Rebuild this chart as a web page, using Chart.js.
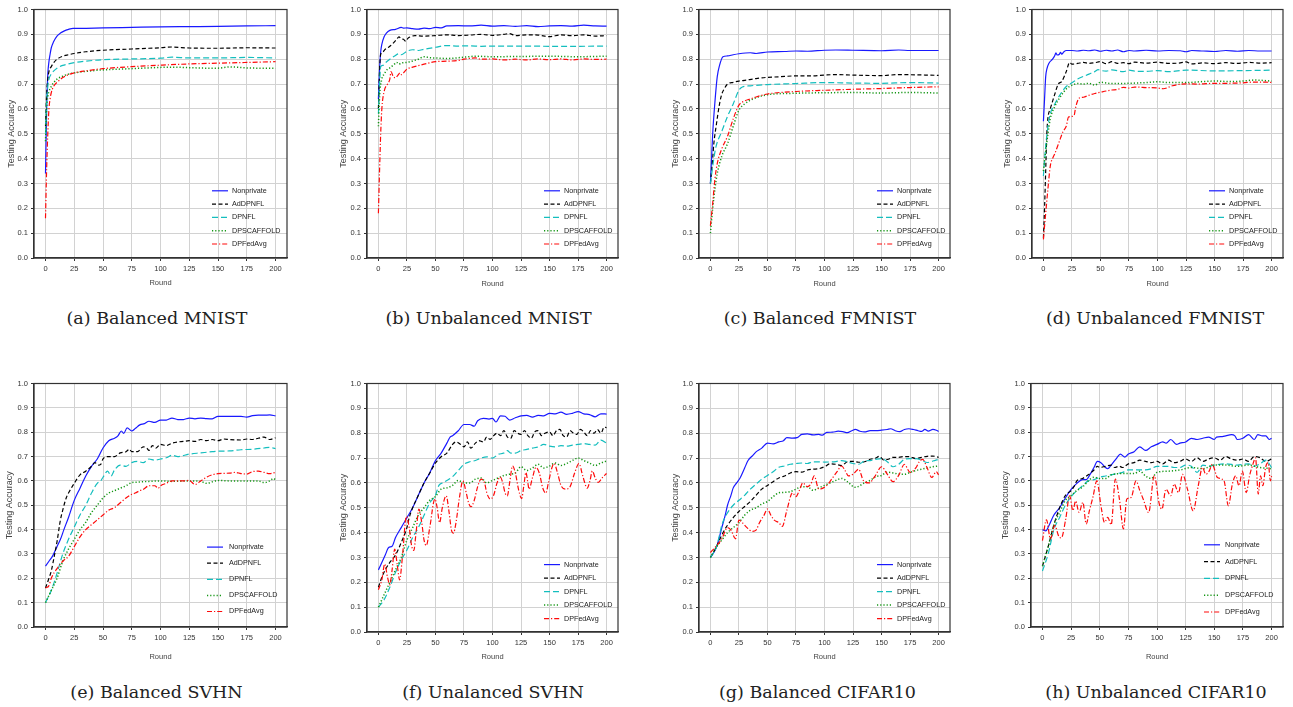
<!DOCTYPE html>
<html>
<head>
<meta charset="utf-8">
<script src="https://cdn.jsdelivr.net/npm/chart.js@4.4.0/dist/chart.umd.min.js"></script>
<style>
body { margin: 0; background: #fff; }
#fig { position: relative; width: 1293px; height: 707px; overflow: hidden; }
#fig canvas { position: absolute; }
.cap { position: absolute; font-family: "DejaVu Serif", serif; font-size: 17.5px; line-height: 21px; color: #222; white-space: nowrap; transform: translateX(-50%); }
</style>
</head>
<body>
<div id="fig"></div>
<script>
// series names, tick labels
const seriesNames = ['Nonprivate', 'AdDPNFL', 'DPNFL', 'DPSCAFFOLD', 'DPFedAvg'];
const xTicks = [0, 25, 50, 75, 100, 125, 150, 175, 200];
const yTicks = [0, 0.1, 0.2, 0.3, 0.4, 0.5, 0.6, 0.7, 0.8, 0.9, 1.0];

// (a) Balanced MNIST  [round, accuracy]
const aNonprivate = [[0,.34],[1,.6],[2,.74],[3,.79],[4,.82],[5,.845],[7,.87],[10,.893],[13,.905],[16,.913],[20,.92],[24,.924],[30,.924],[50,.926],[75,.928],[100,.93],[125,.931],[150,.932],[175,.934],[200,.935]];
const aAdDPNFL = [[0,.53],[1,.66],[2,.72],[3,.75],[5,.77],[7,.785],[10,.8],[15,.812],[20,.818],[25,.823],[35,.83],[50,.836],[75,.841],[90,.844],[100,.846],[110,.849],[125,.845],[150,.844],[175,.846],[200,.845]];
const aDPNFL = [[0,.5],[1,.63],[2,.69],[3,.72],[5,.74],[7,.752],[10,.764],[15,.775],[20,.781],[25,.786],[35,.792],[50,.798],[75,.801],[100,.804],[110,.808],[125,.805],[150,.805],[175,.807],[200,.805]];
const aDPSCAFFOLD = [[0,.47],[1,.6],[2,.65],[3,.67],[5,.69],[7,.705],[10,.72],[15,.732],[20,.74],[25,.745],[35,.751],[50,.757],[75,.762],[100,.767],[110,.768],[125,.766],[140,.764],[150,.764],[160,.769],[175,.765],[200,.763]];
const aDPFedAvg = [[0,.16],[1,.36],[2,.5],[3,.6],[4,.64],[5,.665],[7,.69],[10,.707],[15,.726],[20,.738],[25,.745],[35,.753],[50,.762],[75,.77],[100,.776],[125,.781],[150,.784],[175,.787],[200,.79]];

// (b) Unbalanced MNIST
const bNonprivate = [[0,.64],[1,.76],[2,.83],[3,.86],[5,.89],[7,.905],[10,.916],[15,.92],[20,.928],[22,.925],[25,.926],[30,.923],[35,.921],[40,.925],[45,.923],[50,.928],[55,.926],[60,.934],[70,.935],[80,.934],[90,.937],[100,.933],[110,.935],[120,.932],[130,.935],[140,.931],[150,.934],[160,.935],[170,.933],[180,.937],[190,.934],[200,.933]];
const bAdDPNFL = [[0,.6],[1,.75],[2,.82],[4,.83],[6,.84],[8,.845],[10,.852],[13,.865],[16,.88],[18,.89],[20,.882],[22,.88],[24,.872],[26,.885],[28,.89],[32,.895],[40,.893],[50,.895],[60,.898],[70,.895],[80,.897],[90,.9],[100,.896],[110,.9],[115,.903],[120,.895],[130,.898],[140,.897],[150,.891],[160,.898],[170,.895],[180,.898],[190,.893],[200,.895]];
const bDPNFL = [[0,.58],[1,.7],[2,.77],[4,.775],[6,.785],[10,.8],[15,.815],[18,.822],[20,.818],[25,.832],[30,.838],[35,.835],[40,.84],[50,.848],[60,.855],[70,.853],[80,.854],[90,.852],[100,.853],[125,.853],[150,.852],[175,.852],[200,.853]];
const bDPSCAFFOLD = [[0,.53],[1,.65],[3,.72],[5,.74],[8,.76],[10,.765],[14,.78],[16,.787],[18,.78],[20,.785],[25,.787],[30,.793],[35,.8],[40,.81],[45,.806],[50,.805],[60,.803],[75,.808],[85,.812],[100,.81],[125,.811],[150,.812],[175,.81],[200,.812]];
const bDPFedAvg = [[0,.18],[1,.35],[2,.5],[3,.6],[5,.67],[8,.7],[10,.72],[11,.75],[13,.73],[15,.725],[17,.735],[19,.745],[20,.738],[25,.76],[30,.768],[40,.78],[50,.79],[60,.792],[70,.795],[75,.8],[85,.805],[90,.8],[100,.801],[110,.797],[120,.8],[130,.797],[140,.801],[150,.798],[160,.801],[170,.797],[180,.801],[190,.799],[200,.8]];

// (c) Balanced FMNIST
const cNonprivate = [[0,.3],[1,.4],[2,.5],[4,.63],[6,.73],[8,.775],[11,.81],[15,.813],[20,.818],[25,.822],[35,.826],[40,.823],[50,.829],[65,.831],[75,.833],[85,.832],[100,.836],[110,.837],[125,.836],[150,.834],[165,.837],[175,.835],[200,.835]];
const cAdDPNFL = [[0,.3],[2,.4],[3,.46],[5,.53],[8,.62],[10,.66],[12,.68],[15,.7],[20,.707],[25,.712],[30,.715],[40,.722],[50,.727],[60,.729],[75,.733],[90,.733],[100,.736],[110,.738],[125,.736],[150,.734],[165,.738],[200,.735]];
const cDPNFL = [[0,.3],[3,.4],[5,.45],[10,.51],[15,.57],[20,.62],[25,.675],[28,.688],[35,.693],[50,.698],[75,.702],[100,.706],[125,.704],[150,.703],[175,.706],[200,.704]];
const cDPSCAFFOLD = [[0,.1],[2,.2],[4,.28],[6,.34],[10,.41],[15,.46],[20,.53],[25,.595],[30,.62],[40,.645],[50,.657],[75,.663],[100,.665],[125,.666],[150,.664],[175,.666],[200,.664]];
const cDPFedAvg = [[0,.13],[2,.22],[4,.32],[6,.38],[10,.44],[15,.49],[20,.56],[25,.615],[30,.632],[35,.64],[40,.648],[50,.66],[75,.67],[100,.675],[125,.679],[150,.682],[175,.686],[200,.689]];

// (d) Unbalanced FMNIST
const dNonprivate = [[0,.55],[1,.64],[2,.73],[3,.76],[5,.785],[8,.8],[10,.815],[11,.826],[12,.817],[14,.82],[15,.828],[16,.82],[18,.83],[20,.835],[25,.835],[30,.833],[35,.836],[40,.834],[45,.837],[50,.832],[55,.836],[60,.833],[65,.837],[70,.83],[75,.835],[80,.833],[90,.836],[100,.833],[110,.835],[120,.834],[125,.83],[130,.835],[140,.833],[150,.831],[160,.835],[170,.832],[180,.835],[190,.833],[200,.833]];
const dAdDPNFL = [[0,.08],[1,.2],[2,.35],[3,.5],[4,.565],[6,.6],[8,.63],[10,.66],[13,.7],[16,.71],[20,.75],[23,.787],[25,.78],[30,.783],[35,.787],[40,.783],[45,.786],[50,.79],[55,.782],[60,.79],[65,.783],[70,.786],[75,.782],[80,.788],[90,.784],[100,.788],[110,.783],[120,.785],[125,.789],[130,.781],[140,.785],[150,.782],[160,.786],[170,.783],[180,.787],[190,.784],[200,.786]];
const dDPNFL = [[0,.33],[2,.45],[4,.53],[6,.58],[10,.62],[15,.66],[20,.69],[25,.705],[30,.72],[40,.74],[45,.75],[48,.758],[50,.755],[55,.752],[60,.757],[70,.75],[75,.756],[80,.752],[90,.751],[100,.754],[110,.75],[125,.756],[150,.753],[175,.754],[200,.756]];
const dDPSCAFFOLD = [[0,.35],[2,.43],[4,.5],[6,.56],[10,.61],[15,.65],[20,.68],[25,.695],[30,.702],[35,.7],[40,.703],[45,.696],[50,.707],[60,.702],[75,.703],[90,.706],[100,.709],[110,.706],[125,.706],[140,.71],[150,.712],[165,.71],[175,.712],[185,.716],[200,.712]];
const dDPFedAvg = [[0,.075],[2,.18],[4,.28],[6,.37],[8,.4],[10,.42],[14,.47],[17,.507],[20,.53],[22,.567],[25,.57],[27,.575],[28,.6],[30,.633],[32,.645],[35,.647],[40,.655],[45,.662],[50,.667],[55,.672],[60,.676],[65,.678],[70,.687],[75,.684],[80,.688],[90,.686],[100,.684],[105,.681],[113,.693],[125,.701],[135,.7],[150,.703],[160,.703],[175,.705],[185,.708],[200,.707]];

// (e) Balanced SVHN
const eNonprivate = [[0,.25],[3,.27],[6,.29],[10,.33],[13,.36],[16,.4],[20,.45],[25,.52],[30,.57],[35,.62],[40,.66],[45,.69],[50,.735],[55,.765],[60,.775],[63,.785],[66,.805],[68,.795],[71,.818],[75,.805],[78,.815],[82,.83],[86,.835],[90,.845],[95,.84],[100,.85],[105,.85],[110,.858],[115,.852],[120,.852],[125,.858],[130,.855],[135,.858],[140,.856],[145,.855],[150,.865],[160,.865],[170,.865],[175,.862],[180,.868],[185,.87],[190,.87],[195,.871],[200,.867]];
const eAdDPNFL = [[0,.16],[3,.2],[5,.23],[8,.3],[10,.35],[13,.44],[15,.48],[18,.53],[20,.55],[25,.59],[30,.625],[35,.64],[40,.66],[43,.675],[46,.665],[48,.668],[50,.69],[55,.7],[60,.7],[65,.715],[70,.72],[73,.73],[75,.72],[80,.72],[85,.74],[88,.735],[90,.725],[93,.745],[96,.735],[100,.75],[105,.745],[110,.755],[115,.76],[120,.762],[125,.765],[130,.762],[135,.77],[140,.765],[145,.77],[150,.765],[155,.772],[160,.77],[170,.768],[175,.772],[180,.77],[185,.775],[190,.78],[195,.77],[200,.777]];
const eDPNFL = [[0,.1],[5,.15],[10,.22],[15,.3],[20,.36],[25,.41],[30,.46],[35,.5],[40,.55],[45,.59],[48,.6],[50,.615],[54,.64],[57,.62],[60,.645],[65,.665],[70,.66],[75,.675],[80,.68],[85,.675],[90,.69],[95,.685],[100,.69],[105,.695],[110,.705],[115,.7],[125,.71],[135,.715],[145,.72],[150,.722],[160,.723],[170,.728],[180,.73],[190,.735],[195,.738],[200,.732]];
const eDPSCAFFOLD = [[0,.1],[5,.15],[10,.2],[15,.27],[20,.32],[25,.36],[30,.4],[35,.43],[40,.47],[45,.5],[50,.53],[55,.55],[60,.56],[65,.57],[70,.58],[75,.593],[80,.595],[90,.598],[100,.6],[110,.598],[125,.6],[135,.598],[140,.59],[150,.602],[160,.6],[175,.6],[185,.6],[190,.593],[195,.6],[198,.61],[200,.605]];
const eDPFedAvg = [[0,.16],[3,.17],[5,.2],[10,.24],[15,.27],[20,.29],[25,.33],[30,.37],[35,.4],[40,.42],[45,.44],[50,.46],[55,.48],[60,.49],[65,.51],[70,.53],[75,.545],[78,.55],[82,.56],[85,.565],[90,.58],[95,.58],[98,.57],[100,.58],[105,.59],[110,.6],[115,.6],[120,.6],[125,.602],[130,.585],[135,.6],[140,.615],[145,.625],[150,.63],[160,.632],[165,.635],[170,.63],[175,.628],[180,.638],[185,.64],[190,.635],[195,.63],[200,.635]];

// (f) Unalanced SVHN
const fNonprivate = [[0,.25],[3,.28],[6,.31],[9,.34],[12,.345],[15,.38],[20,.42],[25,.46],[30,.5],[35,.55],[40,.6],[45,.64],[50,.69],[55,.72],[60,.76],[63,.785],[65,.79],[70,.81],[75,.835],[80,.835],[84,.828],[87,.85],[92,.86],[97,.857],[100,.86],[103,.845],[107,.87],[111,.868],[115,.853],[120,.862],[125,.87],[130,.872],[135,.865],[140,.872],[145,.87],[150,.88],[155,.878],[160,.885],[165,.876],[170,.88],[175,.887],[180,.878],[185,.875],[190,.866],[195,.878],[200,.877]];
const fAdDPNFL = [[0,.18],[3,.22],[6,.25],[10,.28],[15,.31],[20,.36],[25,.42],[27,.46],[30,.5],[35,.55],[40,.6],[45,.64],[50,.68],[55,.705],[60,.72],[65,.755],[68,.765],[72,.755],[75,.745],[78,.765],[81,.74],[85,.76],[88,.77],[92,.765],[95,.785],[98,.775],[100,.785],[104,.8],[107,.79],[110,.81],[113,.785],[116,.78],[119,.81],[122,.8],[125,.795],[128,.81],[131,.79],[134,.78],[137,.805],[140,.81],[143,.79],[146,.8],[150,.805],[153,.79],[156,.81],[159,.815],[162,.79],[165,.785],[168,.81],[171,.8],[174,.795],[177,.815],[180,.805],[183,.79],[186,.81],[189,.8],[192,.815],[195,.8],[198,.825],[200,.822]];
const fDPNFL = [[0,.1],[5,.13],[10,.18],[15,.24],[20,.29],[25,.33],[30,.38],[35,.42],[40,.47],[45,.52],[50,.55],[53,.59],[56,.6],[60,.61],[65,.625],[70,.65],[75,.675],[80,.685],[85,.69],[90,.7],[95,.705],[100,.7],[105,.715],[110,.72],[113,.73],[116,.72],[120,.72],[125,.73],[130,.735],[135,.74],[140,.745],[145,.755],[150,.748],[155,.745],[160,.75],[165,.748],[170,.752],[175,.755],[180,.758],[185,.755],[190,.752],[195,.772],[200,.76]];
const fDPSCAFFOLD = [[0,.1],[5,.15],[10,.2],[15,.25],[20,.3],[25,.37],[30,.42],[35,.47],[40,.5],[45,.53],[50,.545],[55,.575],[60,.58],[65,.59],[70,.61],[75,.6],[80,.6],[85,.615],[90,.62],[95,.6],[100,.61],[105,.62],[110,.63],[115,.635],[120,.64],[125,.665],[130,.65],[135,.66],[140,.675],[145,.66],[150,.668],[155,.68],[160,.67],[165,.678],[170,.69],[175,.7],[180,.69],[185,.68],[190,.67],[195,.68],[200,.688]];
const fDPFedAvg = [[0,.17],[3,.21],[5.5,.274],[8,.22],[10,.19],[12,.25],[14.3,.334],[16.5,.27],[18.6,.21],[21,.3],[24.5,.465],[27,.42],[29,.35],[31,.328],[33,.4],[35.5,.495],[38,.44],[40,.37],[42,.348],[45,.42],[49.5,.535],[51.5,.5],[53.6,.44],[56,.5],[59.4,.548],[62,.48],[64,.41],[65.8,.398],[68,.44],[71,.54],[74,.608],[77,.56],[79,.52],[81.2,.504],[84,.53],[87,.585],[90,.615],[93,.6],[95,.56],[98,.535],[101,.55],[104,.6],[106.8,.624],[109,.6],[111,.56],[113,.548],[115,.6],[117.6,.668],[120,.64],[123,.57],[125.5,.537],[127.5,.59],[129.3,.642],[131,.6],[132,.575],[135,.62],[138,.662],[141,.64],[144,.58],[146.7,.559],[149,.6],[152,.66],[154,.678],[157,.64],[160,.59],[164,.575],[168,.585],[172,.64],[175.8,.678],[179,.63],[183,.579],[185.5,.61],[187.5,.648],[190,.62],[192.7,.602],[196,.62],[200,.638]];

// (g) Balanced CIFAR10
const gNonprivate = [[0,.3],[3,.32],[6,.35],[10,.42],[13,.47],[15,.51],[18,.55],[20,.58],[23,.6],[26,.62],[30,.66],[33,.69],[37,.71],[40,.725],[45,.74],[50,.76],[55,.757],[60,.765],[64,.77],[67,.782],[72,.78],[76,.782],[80,.795],[85,.797],[90,.793],[95,.795],[98,.792],[102,.803],[107,.804],[112,.808],[116,.806],[120,.802],[124,.81],[127,.815],[131,.808],[135,.805],[140,.81],[145,.81],[150,.812],[155,.815],[158,.818],[162,.81],[166,.806],[170,.815],[174,.818],[178,.815],[182,.81],[185,.807],[188,.815],[191,.808],[195,.815],[198,.812],[200,.807]];
const gAdDPNFL = [[0,.3],[5,.34],[10,.39],[15,.43],[20,.46],[25,.485],[30,.505],[35,.525],[40,.55],[45,.575],[50,.59],[55,.605],[60,.62],[65,.628],[70,.64],[75,.645],[80,.643],[85,.652],[90,.655],[95,.657],[100,.665],[105,.677],[110,.675],[115,.67],[120,.685],[125,.687],[130,.683],[135,.685],[140,.695],[145,.7],[148,.707],[152,.692],[156,.695],[160,.703],[165,.703],[170,.706],[175,.705],[180,.698],[185,.703],[190,.707],[195,.708],[200,.703]];
const gDPNFL = [[0,.3],[5,.34],[8,.39],[10,.43],[15,.48],[20,.51],[25,.53],[30,.55],[35,.575],[40,.595],[45,.615],[50,.63],[55,.645],[60,.663],[65,.668],[70,.675],[75,.678],[80,.68],[85,.678],[90,.685],[95,.685],[100,.684],[110,.686],[115,.69],[120,.685],[125,.678],[130,.675],[135,.688],[140,.69],[145,.695],[150,.698],[155,.685],[160,.665],[165,.675],[170,.695],[175,.698],[180,.698],[185,.692],[190,.682],[195,.688],[200,.695]];
const gDPSCAFFOLD = [[0,.3],[5,.34],[10,.37],[15,.4],[20,.42],[25,.44],[30,.47],[35,.49],[40,.5],[45,.515],[50,.525],[55,.545],[60,.56],[65,.562],[70,.565],[75,.575],[80,.585],[85,.585],[90,.57],[95,.58],[100,.59],[105,.6],[110,.61],[115,.618],[120,.605],[127,.582],[135,.6],[140,.61],[145,.625],[150,.63],[155,.643],[160,.64],[165,.636],[170,.635],[175,.642],[180,.65],[185,.655],[190,.66],[195,.665],[200,.668]];
const gDPFedAvg = [[0,.32],[5,.345],[10,.375],[15,.42],[18,.41],[22,.375],[25,.45],[28,.44],[32,.42],[37,.405],[40,.41],[43,.44],[47,.47],[50,.495],[53,.47],[56,.45],[60,.44],[63,.425],[67,.49],[72,.56],[75,.545],[78,.57],[81,.6],[85,.585],[88,.595],[91,.628],[95,.575],[99,.58],[103,.595],[107,.62],[111,.645],[115,.668],[118,.65],[121,.628],[125,.635],[130,.655],[134,.61],[139,.6],[144,.625],[150,.665],[155,.635],[160,.605],[165,.63],[170,.675],[175,.642],[180,.66],[183,.685],[186,.695],[190,.66],[194,.622],[198,.645],[200,.632]];

// (h) Unbalanced CIFAR10
const hNonprivate = [[0,.4],[3,.395],[5,.41],[10,.46],[15,.49],[20,.53],[25,.565],[30,.59],[35,.605],[38,.605],[42,.63],[45,.655],[48,.68],[51,.675],[55,.655],[57,.65],[60,.665],[65,.695],[68,.71],[72,.698],[75,.71],[80,.72],[85,.74],[90,.725],[95,.74],[100,.75],[105,.76],[108,.755],[112,.77],[117,.75],[120,.755],[125,.76],[130,.775],[135,.77],[140,.775],[145,.78],[150,.77],[152,.78],[157,.782],[160,.785],[165,.79],[168,.785],[170,.77],[175,.775],[180,.79],[185,.77],[188,.79],[192,.785],[195,.785],[198,.77],[200,.775]];
const hAdDPNFL = [[0,.25],[5,.33],[10,.42],[15,.49],[20,.54],[25,.56],[28,.58],[30,.6],[35,.61],[40,.625],[45,.645],[48,.66],[50,.655],[55,.66],[60,.665],[63,.655],[67,.66],[70,.655],[75,.67],[80,.675],[85,.685],[90,.68],[95,.675],[100,.68],[105,.67],[110,.685],[115,.675],[120,.68],[125,.69],[130,.68],[135,.695],[140,.68],[145,.69],[150,.695],[155,.685],[160,.7],[165,.69],[170,.685],[175,.69],[180,.68],[185,.7],[190,.695],[195,.68],[200,.69]];
const hDPNFL = [[0,.23],[5,.3],[10,.4],[15,.45],[20,.5],[25,.535],[30,.56],[35,.58],[40,.6],[45,.605],[50,.615],[55,.62],[60,.625],[65,.63],[70,.635],[75,.645],[80,.645],[90,.645],[95,.65],[100,.66],[110,.66],[115,.655],[120,.655],[125,.665],[130,.66],[135,.635],[140,.665],[145,.66],[150,.665],[160,.67],[170,.665],[180,.67],[185,.66],[190,.67],[195,.685],[200,.655]];
const hDPSCAFFOLD = [[0,.25],[5,.33],[10,.42],[15,.47],[20,.52],[25,.54],[30,.56],[35,.575],[40,.6],[45,.615],[50,.61],[55,.61],[60,.625],[70,.63],[80,.63],[85,.64],[90,.62],[95,.61],[100,.635],[110,.64],[120,.645],[130,.655],[140,.65],[150,.665],[160,.665],[170,.66],[180,.665],[190,.655],[200,.65]];
const hDPFedAvg = [[0,.355],[3.5,.44],[7,.362],[10.7,.417],[14.5,.37],[16.5,.366],[20.3,.443],[23.7,.539],[26.6,.478],[29,.518],[31.9,.471],[35.3,.512],[38.2,.423],[41,.478],[44,.532],[47.5,.6],[51.3,.49],[54.2,.43],[57,.45],[60,.42],[63.7,.607],[67.2,.525],[70.7,.403],[73.6,.525],[77.4,.532],[81.7,.6],[85,.56],[88,.525],[92.7,.47],[97.6,.621],[102,.505],[104.3,.484],[107.8,.566],[112,.539],[115,.587],[118.8,.552],[122.3,.627],[126.6,.566],[131.6,.477],[136,.58],[139.7,.655],[142.6,.627],[145.5,.64],[148.3,.668],[152.7,.614],[158.5,.6],[162.3,.498],[165.8,.587],[168.7,.621],[171.6,.58],[174.5,.64],[177.9,.552],[180.8,.621],[183.7,.668],[186,.695],[188.4,.546],[190.4,.621],[192.4,.58],[194.8,.655],[197,.675],[199.1,.6],[200,.62]];

const lineStyles = [
  { color: 'rgb(25,25,255)', dash: [], width: 1.2 },
  { color: '#000', dash: [4, 2.5], width: 1.2 },
  { color: 'rgb(20,190,190)', dash: [6, 3], width: 1.2 },
  { color: 'rgb(20,150,20)', dash: [1.2, 2], width: 1.5 },
  { color: 'rgb(255,10,10)', dash: [5, 2, 1.2, 2], width: 1.2 },
];

// plot = [left, top, right, bottom] in page px; cl = canvas left; roundY = centre of "Round"
const panels = [
  { cap: '(a) Balanced MNIST', capX: 157, capY: 308, series: [aNonprivate, aAdDPNFL, aDPNFL, aDPSCAFFOLD, aDPFedAvg], plot: [34, 8, 287, 258], cl: 4, roundY: 283, leg: { gap: 13.3, bottom: 14, line: 75, text: 55 } },
  { cap: '(b) Unbalanced MNIST', capX: 488.5, capY: 308, series: [bNonprivate, bAdDPNFL, bDPNFL, bDPSCAFFOLD, bDPFedAvg], plot: [367, 8, 618, 258], cl: 336, roundY: 283.5, leg: { gap: 13.3, bottom: 14, line: 74, text: 54 } },
  { cap: '(c) Balanced FMNIST', capX: 820, capY: 308, series: [cNonprivate, cAdDPNFL, cDPNFL, cDPSCAFFOLD, cDPFedAvg], plot: [699, 8, 950, 258], cl: 668, roundY: 283.5, leg: { gap: 13.3, bottom: 14, line: 73, text: 53 } },
  { cap: '(d) Unbalanced FMNIST', capX: 1155, capY: 308, series: [dNonprivate, dAdDPNFL, dDPNFL, dDPSCAFFOLD, dDPFedAvg], plot: [1032, 8, 1283, 258], cl: 1000, roundY: 283.5, leg: { gap: 13.3, bottom: 14, line: 74, text: 54 } },
  { cap: '(e) Balanced SVHN', capX: 156.5, capY: 681.5, series: [eNonprivate, eAdDPNFL, eDPNFL, eDPSCAFFOLD, eDPFedAvg], plot: [34, 382, 287, 627], cl: 2, roundY: 657, leg: { gap: 16.1, bottom: 15.5, line: 80, text: 58 } },
  { cap: '(f) Unalanced SVHN', capX: 493, capY: 681.5, series: [fNonprivate, fAdDPNFL, fDPNFL, fDPSCAFFOLD, fDPFedAvg], plot: [367, 382, 618, 632], cl: 336, roundY: 657, leg: { gap: 13.5, bottom: 13.4, line: 74, text: 54 } },
  { cap: '(g) Balanced CIFAR10', capX: 817.5, capY: 681.5, series: [gNonprivate, gAdDPNFL, gDPNFL, gDPSCAFFOLD, gDPFedAvg], plot: [699, 382, 950, 632], cl: 668, roundY: 657, leg: { gap: 13.5, bottom: 13.4, line: 73, text: 53 } },
  { cap: '(h) Unbalanced CIFAR10', capX: 1156, capY: 681.5, series: [hNonprivate, hAdDPNFL, hDPNFL, hDPSCAFFOLD, hDPFedAvg], plot: [1031, 382, 1283, 627], cl: 998, roundY: 657, leg: { gap: 16.8, bottom: 15, line: 79, text: 58 } },
];

Chart.defaults.font.family = '"Liberation Sans", Arial, sans-serif';

// box around the plot and the legend inside the lower right corner
const frameLegend = {
  id: 'frameLegend',
  afterDatasetsDraw(chart, args, opts) {
    const { ctx, chartArea: a } = chart;
    ctx.save();
    ctx.strokeStyle = '#333';
    ctx.lineWidth = 1.2;
    ctx.strokeRect(a.left, a.top, a.right - a.left, a.bottom - a.top);
    ctx.font = '7.2px "Liberation Sans", Arial, sans-serif';
    ctx.textBaseline = 'middle';
    ctx.fillStyle = '#222';
    const n = chart.data.datasets.length;
    chart.data.datasets.forEach((ds, i) => {
      const y = a.bottom - opts.bottom - (n - 1 - i) * opts.gap;
      ctx.beginPath();
      ctx.setLineDash(ds.borderDash);
      ctx.strokeStyle = ds.borderColor;
      ctx.lineWidth = ds.borderWidth;
      ctx.moveTo(a.right - opts.line, y);
      ctx.lineTo(a.right - opts.line + 16, y);
      ctx.stroke();
      ctx.setLineDash([]);
      ctx.fillText(ds.label, a.right - opts.text, y);
    });
    ctx.restore();
  }
};

const fig = document.getElementById('fig');

panels.forEach(p => {
  const [l, t, r, b] = p.plot;
  const ct = t - 6;
  const cb = Math.round(p.roundY + 9);
  const yw = l - p.cl;
  const xh = cb - b;

  const canvas = document.createElement('canvas');
  canvas.width = r + 6 - p.cl;
  canvas.height = cb - ct;
  canvas.style.left = p.cl + 'px';
  canvas.style.top = ct + 'px';
  fig.appendChild(canvas);

  const cap = document.createElement('div');
  cap.className = 'cap';
  cap.textContent = p.cap;
  cap.style.left = p.capX + 'px';
  cap.style.top = p.capY + 'px';
  fig.appendChild(cap);

  new Chart(canvas, {
    type: 'line',
    data: {
      datasets: p.series.map((d, i) => ({
        label: seriesNames[i],
        data: d,
        borderColor: lineStyles[i].color,
        borderDash: lineStyles[i].dash,
        borderWidth: lineStyles[i].width,
        pointRadius: 0,
        fill: false,
        cubicInterpolationMode: 'monotone',
        order: 4 - i
      }))
    },
    options: {
      responsive: false,
      animation: false,
      layout: { padding: { top: 6, right: 6, left: 0, bottom: 0 } },
      plugins: { legend: { display: false }, tooltip: { enabled: false }, frameLegend: p.leg },
      scales: {
        x: {
          type: 'linear', min: -10, max: 210,
          afterBuildTicks: s => { s.ticks = xTicks.map(v => ({ value: v })); },
          afterFit: s => { s.height = xh; },
          ticks: { font: { size: 7.5 }, color: '#333', padding: 3, maxRotation: 0, autoSkip: false },
          grid: { color: '#d2d2d2', tickColor: '#333', tickLength: 3, lineWidth: 1 },
          border: { color: '#333', width: 1.2 },
          title: { display: true, text: 'Round', font: { size: 7.5 }, color: '#444', padding: { top: 0, bottom: 4.5 } }
        },
        y: {
          min: 0, max: 1,
          afterBuildTicks: s => { s.ticks = yTicks.map(v => ({ value: v })); },
          afterFit: s => { s.width = yw; },
          ticks: { font: { size: 7.5 }, color: '#333', padding: 3, callback: v => v.toFixed(1) },
          grid: { color: '#d2d2d2', tickColor: '#333', tickLength: 3, lineWidth: 1 },
          border: { color: '#333', width: 1.2 },
          title: { display: true, text: 'Testing Accuracy', font: { size: 9 }, color: '#444', padding: { top: 2.6, bottom: 0 } }
        }
      }
    },
    plugins: [frameLegend]
  });
});
</script>
</body>
</html>
